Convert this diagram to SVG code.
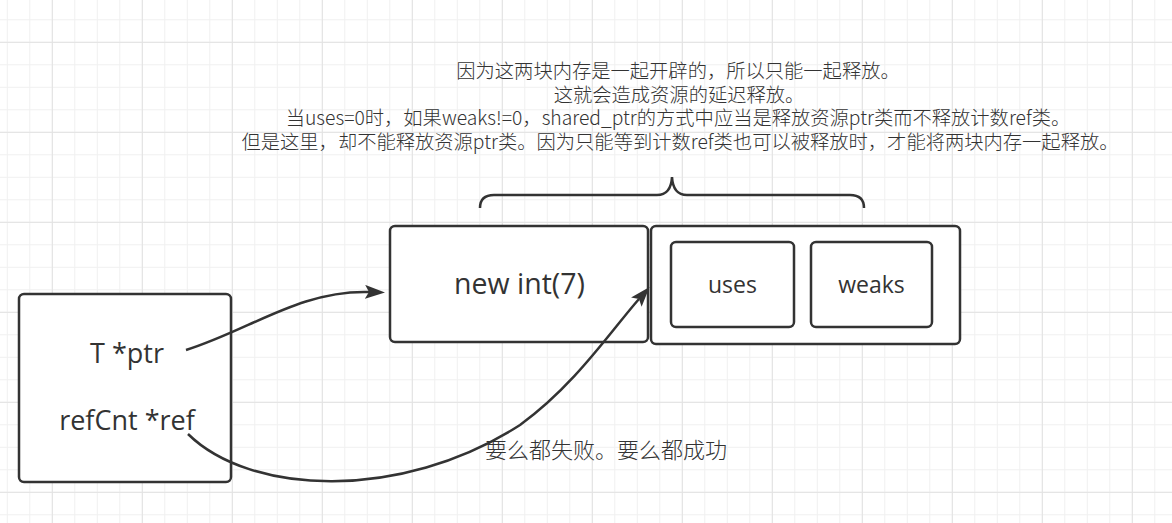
<svg xmlns="http://www.w3.org/2000/svg" width="1172" height="523" viewBox="0 0 1172 523">
<defs>
<pattern id="gMinor" width="22.5" height="22.5" patternUnits="userSpaceOnUse" x="6.8" y="19.3">
<rect x="0" y="0" width="1" height="22.5" fill="#f0f0f0"/>
<rect x="0" y="0" width="22.5" height="1" fill="#f0f0f0"/>
</pattern>
<pattern id="gMajor" width="90" height="90" patternUnits="userSpaceOnUse" x="51.8" y="41.8">
<rect x="0" y="0" width="1" height="90" fill="#e2e2e2"/>
<rect x="0" y="0" width="90" height="1" fill="#e2e2e2"/>
</pattern>
<marker id="arrow" markerUnits="userSpaceOnUse" markerWidth="22" markerHeight="16" refX="4" refY="7" orient="auto" viewBox="0 0 22 16">
<path d="M0,0 L20,7 L0,14 L4,7 Z" fill="#333333"/>
</marker>
</defs>
<style>
.box{fill:#ffffff;stroke:#333333;stroke-width:2.5}
.lbl{font-family:"Open Sans","Noto Sans",sans-serif;fill:#333333;text-anchor:middle}
.cjk{font-family:"Noto Sans CJK SC","Noto Sans",sans-serif;fill:#333333;text-anchor:middle;font-weight:300}
.edge{fill:none;stroke:#333333;stroke-width:2.5}
</style>
<rect width="1172" height="523" fill="#ffffff"/>
<rect width="1172" height="523" fill="url(#gMinor)"/>
<rect width="1172" height="523" fill="url(#gMajor)"/>

<g id="note">
<text class="cjk" font-size="19.3"><tspan x="678" y="78">因为这两块内存是一起开辟的，所以只能一起释放。</tspan><tspan x="679" y="102">这就会造成资源的延迟释放。</tspan><tspan x="678" y="125">当uses=0时，如果weaks!=0，shared_ptr的方式中应当是释放资源ptr类而不释放计数ref类。</tspan><tspan x="680" y="149">但是这里，却不能释放资源ptr类。因为只能等到计数ref类也可以被释放时，才能将两块内存一起释放。</tspan></text>
</g>

<g id="brace">
<path class="edge" d="M480,208 Q480,195 494,195 L657,195 Q671,195 672,177 Q673,195 687,195 L850,195 Q864,195 864,208"/>
</g>

<g id="sharedptr">
<rect class="box" x="19" y="294" width="212" height="188" rx="5"/>
<text class="lbl" x="127" y="363" font-size="27">T *ptr</text>
<text class="lbl" x="127" y="430" font-size="27">refCnt *ref</text>
</g>

<g id="resource">
<rect class="box" x="390" y="226" width="258" height="116" rx="5"/>
<text class="lbl" x="519.5" y="294" font-size="28.5">new int(7)</text>
</g>

<g id="refcnt">
<rect class="box" x="651" y="226" width="309" height="118" rx="5"/>
</g>
<g id="uses">
<rect class="box" x="671" y="242" width="123" height="85" rx="5"/>
<text class="lbl" x="732.5" y="293" font-size="23">uses</text>
</g>
<g id="weaks">
<rect class="box" x="811" y="242" width="121" height="85" rx="5"/>
<text class="lbl" x="871.5" y="293" font-size="23">weaks</text>
</g>

<g id="caption">
<text class="cjk" x="606" y="458" font-size="22">要么都失败。要么都成功</text>
</g>

<g id="connectors">
<path class="edge" marker-end="url(#arrow)" d="M186,350 C250,330 300,290 369,292"/>
<path class="edge" marker-end="url(#arrow)" d="M188,434 C250,495 400,502 520,425 C575,385 610,332 639,299"/>
</g>
</svg>
